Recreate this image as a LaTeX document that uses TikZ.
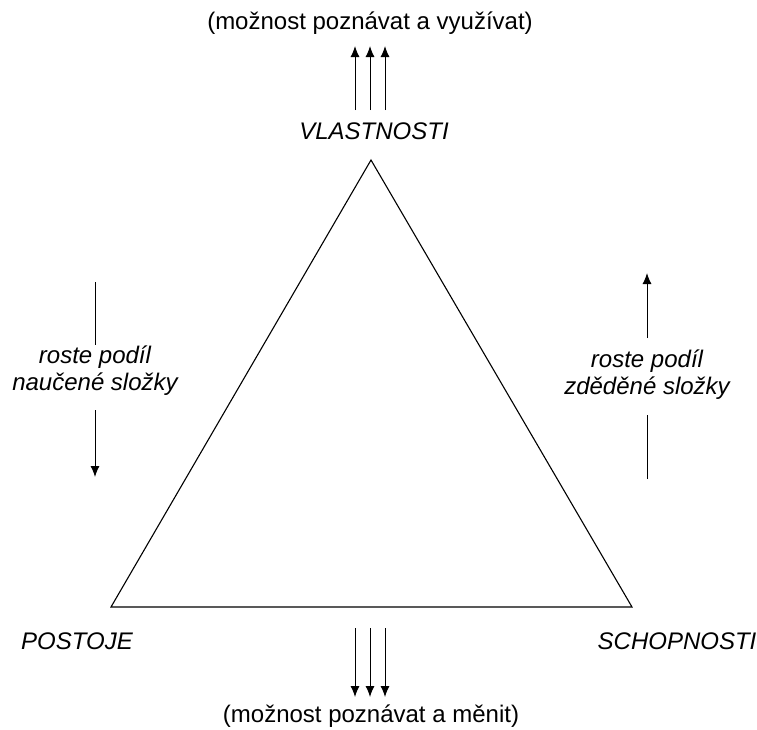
\documentclass[tikz,border=0pt]{standalone}
\usepackage{fontspec}
\setmainfont{Liberation Sans}
\usetikzlibrary{arrows.meta}
\begin{document}
\begin{tikzpicture}[x=1pt,y=-1pt,
  lbl/.style={font=\fontsize{24}{27}\selectfont, inner sep=0pt, align=center},
  ilbl/.style={lbl, font=\fontsize{24}{27}\selectfont\itshape},
  tri/.style={draw=black, line width=1.1pt, line join=miter},
  arr/.style={draw=black, line width=1pt, -{Latex[length=11pt,width=9pt]}},
  ln/.style={draw=black, line width=1pt}]
\useasboundingbox (0,0) rectangle (757,729);
% triangle
\coordinate (A) at (371,160);
\coordinate (B) at (111,607);
\coordinate (C) at (632,607);
\draw[tri] (A) -- (B) -- (C) -- cycle;
% labels
\node[lbl] (top) at (370,23) {(možnost poznávat a využívat)};
\node[ilbl] (vl) at (374,131) {VLASTNOSTI};
\node[lbl] (bot) at (371,716) {(možnost poznávat a měnit)};
\node[ilbl] (po) at (77,641) {POSTOJE};
\node[ilbl] (sc) at (677,641) {SCHOPNOSTI};
\node[ilbl] (ln) at (95,371) {roste podíl\\naučené složky};
\node[ilbl] (rn) at (647,375) {roste podíl\\zděděné složky};
% top and bottom arrows
\foreach \x [count=\i] in {355,370,385}{
  \coordinate (t\i a) at (\x,110);
  \coordinate (t\i b) at (\x,46);
  \draw[arr] (t\i a) -- (t\i b);
  \coordinate (b\i a) at (\x,628);
  \coordinate (b\i b) at (\x,697);
  \draw[arr] (b\i a) -- (b\i b);
}
% left arrow
\coordinate (l1) at (95,282);
\coordinate (l2) at (95,345);
\coordinate (l3) at (95,410);
\coordinate (l4) at (95,477);
\draw[ln] (l1) -- (l2);
\draw[arr] (l3) -- (l4);
% right arrow
\coordinate (r1) at (647,479);
\coordinate (r2) at (647,415);
\coordinate (r3) at (647,338);
\coordinate (r4) at (647,273);
\draw[ln] (r1) -- (r2);
\draw[arr] (r3) -- (r4);
\end{tikzpicture}
\end{document}
